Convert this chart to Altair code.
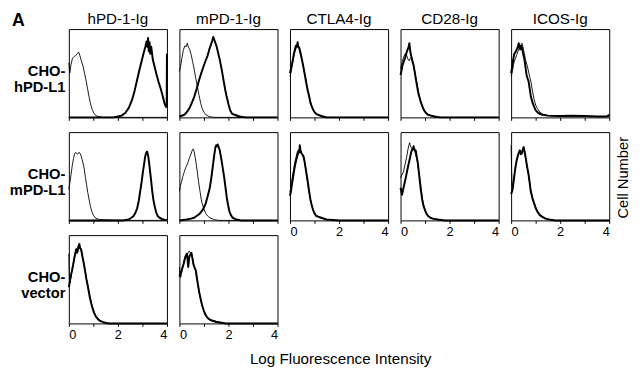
import altair as alt
import pandas as pd

# ---------------- text ----------------
column_titles = ["hPD-1-Ig", "mPD-1-Ig", "CTLA4-Ig", "CD28-Ig", "ICOS-Ig"]
row_titles = [["CHO-", "hPD-L1"], ["CHO-", "mPD-L1"], ["CHO-", "vector"]]
panel_letter = ["A"]
x_title = "Log Fluorescence Intensity"
y_title = "Cell Number"
x_ticks = [0, 1, 2, 3, 4]

# ---------------- histograms (x = log fluorescence, y = fraction of panel height) ----------------
# row 1: CHO-hPD-L1
r1c1_thin = [(0, 0.62), (0.04, 0.50), (0.09, 0.60), (0.15, 0.67), (0.22, 0.69), (0.28, 0.70), (0.34, 0.72), (0.40, 0.74), (0.45, 0.70), (0.52, 0.63), (0.58, 0.58), (0.64, 0.50), (0.70, 0.42), (0.76, 0.33), (0.82, 0.24), (0.88, 0.16), (0.95, 0.09), (1.02, 0.05), (1.10, 0.02), (1.20, 0.01), (1.40, 0.0), (4.0, 0.0)]
r1c1_thick = [(0, 0.0), (1.8, 0.0), (2.0, 0.01), (2.15, 0.02), (2.3, 0.05), (2.45, 0.11), (2.58, 0.20), (2.68, 0.30), (2.78, 0.42), (2.88, 0.54), (2.98, 0.65), (3.05, 0.73), (3.12, 0.80), (3.17, 0.86), (3.20, 0.80), (3.23, 0.90), (3.26, 0.75), (3.29, 0.85), (3.32, 0.72), (3.36, 0.80), (3.42, 0.66), (3.50, 0.57), (3.58, 0.48), (3.66, 0.40), (3.74, 0.33), (3.82, 0.25), (3.90, 0.16), (3.96, 0.12), (3.99, 0.12), (4.0, 0.72)]
r1c2_thin = [(0, 0.52), (0.05, 0.58), (0.1, 0.67), (0.16, 0.76), (0.22, 0.81), (0.28, 0.80), (0.32, 0.84), (0.36, 0.80), (0.42, 0.77), (0.48, 0.71), (0.54, 0.63), (0.60, 0.55), (0.67, 0.44), (0.74, 0.34), (0.80, 0.25), (0.87, 0.16), (0.93, 0.10), (1.0, 0.06), (1.08, 0.03), (1.2, 0.01), (1.4, 0.0), (4, 0)]
r1c2_thick = [(0, 0.01), (0.2, 0.03), (0.3, 0.06), (0.4, 0.10), (0.5, 0.16), (0.6, 0.23), (0.7, 0.32), (0.8, 0.42), (0.9, 0.51), (1.0, 0.59), (1.08, 0.65), (1.15, 0.70), (1.22, 0.77), (1.28, 0.82), (1.34, 0.87), (1.38, 0.91), (1.42, 0.88), (1.46, 0.85), (1.52, 0.80), (1.58, 0.73), (1.64, 0.66), (1.72, 0.55), (1.80, 0.42), (1.87, 0.31), (1.93, 0.23), (2.0, 0.15), (2.07, 0.08), (2.15, 0.04), (2.25, 0.03), (2.45, 0.01), (2.7, 0.0), (4, 0)]
r1c3_thin = [(0, 0.46), (0.05, 0.52), (0.1, 0.60), (0.15, 0.68), (0.2, 0.74), (0.26, 0.79), (0.31, 0.82), (0.36, 0.78), (0.42, 0.72), (0.48, 0.66), (0.55, 0.57), (0.62, 0.47), (0.68, 0.38), (0.75, 0.28), (0.82, 0.19), (0.9, 0.11), (1.0, 0.06), (1.1, 0.03), (1.25, 0.01), (1.5, 0), (4, 0)]
r1c3_thick = [(0, 0.50), (0.04, 0.55), (0.08, 0.60), (0.12, 0.66), (0.16, 0.72), (0.20, 0.77), (0.24, 0.81), (0.28, 0.80), (0.31, 0.85), (0.34, 0.80), (0.38, 0.79), (0.43, 0.73), (0.47, 0.68), (0.52, 0.61), (0.56, 0.55), (0.62, 0.46), (0.67, 0.38), (0.72, 0.31), (0.78, 0.24), (0.83, 0.17), (0.88, 0.13), (0.94, 0.09), (1.0, 0.06), (1.07, 0.04), (1.14, 0.03), (1.25, 0.02), (1.35, 0.01), (1.5, 0.0), (4, 0)]
r1c4_thin = [(0, 0.55), (0.06, 0.62), (0.12, 0.68), (0.19, 0.72), (0.25, 0.70), (0.30, 0.66), (0.35, 0.64), (0.40, 0.67), (0.45, 0.68), (0.50, 0.63), (0.56, 0.55), (0.62, 0.46), (0.68, 0.37), (0.74, 0.28), (0.80, 0.20), (0.87, 0.13), (0.95, 0.08), (1.05, 0.04), (1.2, 0.02), (1.4, 0.0), (4, 0)]
r1c4_thick = [(0, 0.48), (0.04, 0.53), (0.08, 0.59), (0.13, 0.63), (0.19, 0.68), (0.24, 0.73), (0.29, 0.77), (0.33, 0.80), (0.36, 0.84), (0.39, 0.76), (0.43, 0.70), (0.48, 0.64), (0.53, 0.59), (0.58, 0.51), (0.62, 0.44), (0.67, 0.36), (0.72, 0.28), (0.78, 0.22), (0.83, 0.17), (0.90, 0.12), (0.96, 0.08), (1.04, 0.05), (1.12, 0.03), (1.25, 0.02), (1.4, 0.01), (1.6, 0.0), (4, 0)]
r1c5_thin = [(0, 0.47), (0.05, 0.52), (0.1, 0.60), (0.16, 0.66), (0.22, 0.70), (0.28, 0.75), (0.34, 0.79), (0.40, 0.82), (0.44, 0.84), (0.48, 0.80), (0.54, 0.72), (0.6, 0.64), (0.67, 0.57), (0.74, 0.48), (0.81, 0.40), (0.87, 0.30), (0.94, 0.20), (1.0, 0.14), (1.07, 0.10), (1.17, 0.06), (1.27, 0.04), (1.5, 0.02), (2.0, 0.01), (3.0, 0.01), (4.0, 0.01)]
r1c5_thick = [(0, 0.50), (0.04, 0.57), (0.07, 0.63), (0.10, 0.68), (0.13, 0.72), (0.18, 0.74), (0.23, 0.77), (0.27, 0.80), (0.31, 0.84), (0.34, 0.79), (0.37, 0.77), (0.41, 0.81), (0.44, 0.79), (0.49, 0.72), (0.54, 0.66), (0.58, 0.58), (0.63, 0.48), (0.67, 0.44), (0.71, 0.41), (0.76, 0.32), (0.81, 0.23), (0.87, 0.17), (0.94, 0.12), (1.0, 0.08), (1.07, 0.06), (1.17, 0.04), (1.27, 0.03), (1.5, 0.02), (2.0, 0.015), (2.5, 0.02), (3.0, 0.015), (3.5, 0.01), (3.9, 0.01), (4.0, 0.03)]
# row 2: CHO-mPD-L1
r2c1_thin = [(0, 0.35), (0.04, 0.42), (0.09, 0.52), (0.14, 0.62), (0.19, 0.70), (0.23, 0.75), (0.27, 0.77), (0.31, 0.76), (0.36, 0.75), (0.41, 0.77), (0.46, 0.76), (0.50, 0.73), (0.54, 0.69), (0.58, 0.65), (0.63, 0.58), (0.67, 0.50), (0.72, 0.41), (0.77, 0.32), (0.83, 0.23), (0.88, 0.16), (0.94, 0.10), (1.0, 0.06), (1.07, 0.03), (1.15, 0.02), (1.25, 0.01), (1.6, 0.005), (2.4, 0.0), (4, 0)]
r2c1_thick = [(0, 0.0), (2.2, 0.0), (2.44, 0.01), (2.55, 0.03), (2.64, 0.05), (2.72, 0.09), (2.78, 0.13), (2.85, 0.22), (2.91, 0.33), (2.97, 0.44), (3.02, 0.55), (3.07, 0.64), (3.11, 0.72), (3.15, 0.76), (3.19, 0.78), (3.23, 0.74), (3.27, 0.66), (3.31, 0.56), (3.36, 0.44), (3.40, 0.33), (3.45, 0.23), (3.50, 0.16), (3.56, 0.09), (3.62, 0.05), (3.70, 0.03), (3.85, 0.01), (4.0, 0.0)]
r2c2_thin = [(0, 0.33), (0.05, 0.40), (0.09, 0.44), (0.14, 0.50), (0.2, 0.55), (0.26, 0.60), (0.33, 0.64), (0.40, 0.70), (0.47, 0.75), (0.52, 0.79), (0.56, 0.81), (0.60, 0.78), (0.64, 0.72), (0.69, 0.63), (0.73, 0.55), (0.78, 0.44), (0.84, 0.33), (0.89, 0.24), (0.93, 0.19), (1.0, 0.13), (1.07, 0.08), (1.15, 0.05), (1.24, 0.03), (1.4, 0.01), (1.6, 0.0), (4, 0)]
r2c2_thick = [(0, 0.0), (0.3, 0.01), (0.47, 0.02), (0.6, 0.03), (0.7, 0.05), (0.8, 0.07), (0.87, 0.09), (0.95, 0.12), (1.02, 0.16), (1.07, 0.19), (1.15, 0.27), (1.24, 0.37), (1.30, 0.48), (1.37, 0.63), (1.42, 0.74), (1.47, 0.83), (1.50, 0.85), (1.53, 0.84), (1.56, 0.86), (1.60, 0.83), (1.64, 0.80), (1.68, 0.74), (1.73, 0.66), (1.78, 0.57), (1.83, 0.48), (1.88, 0.37), (1.93, 0.26), (1.98, 0.18), (2.04, 0.10), (2.10, 0.06), (2.17, 0.03), (2.33, 0.01), (2.5, 0.0), (4, 0)]
r2c3_thin = [(0, 0.32), (0.05, 0.40), (0.1, 0.50), (0.15, 0.58), (0.2, 0.66), (0.25, 0.72), (0.3, 0.78), (0.35, 0.80), (0.4, 0.78), (0.46, 0.76), (0.52, 0.73), (0.58, 0.68), (0.64, 0.58), (0.7, 0.47), (0.76, 0.36), (0.82, 0.26), (0.88, 0.18), (0.95, 0.11), (1.05, 0.06), (1.2, 0.03), (1.5, 0.01), (2.0, 0.0), (4, 0)]
r2c3_thick = [(0, 0.28), (0.04, 0.33), (0.07, 0.39), (0.11, 0.46), (0.16, 0.55), (0.21, 0.63), (0.27, 0.70), (0.32, 0.75), (0.36, 0.79), (0.38, 0.77), (0.40, 0.85), (0.43, 0.79), (0.47, 0.76), (0.52, 0.74), (0.56, 0.72), (0.60, 0.66), (0.64, 0.59), (0.69, 0.50), (0.74, 0.41), (0.78, 0.33), (0.83, 0.24), (0.88, 0.18), (0.94, 0.12), (1.0, 0.08), (1.07, 0.05), (1.18, 0.04), (1.28, 0.03), (1.48, 0.01), (1.74, 0.005), (2.0, 0.0), (4, 0)]
r2c4_thin = [(0, 0.48), (0.06, 0.52), (0.12, 0.55), (0.18, 0.63), (0.25, 0.72), (0.30, 0.80), (0.34, 0.85), (0.37, 0.88), (0.40, 0.84), (0.45, 0.82), (0.50, 0.80), (0.55, 0.80), (0.60, 0.76), (0.66, 0.70), (0.70, 0.64), (0.75, 0.54), (0.80, 0.43), (0.85, 0.33), (0.90, 0.23), (0.96, 0.15), (1.03, 0.10), (1.1, 0.06), (1.2, 0.03), (1.4, 0.01), (1.7, 0.0), (4, 0)]
r2c4_thick = [(0, 0.37), (0.03, 0.33), (0.06, 0.29), (0.09, 0.33), (0.13, 0.38), (0.17, 0.43), (0.21, 0.48), (0.26, 0.55), (0.32, 0.63), (0.38, 0.70), (0.43, 0.77), (0.47, 0.80), (0.50, 0.81), (0.53, 0.84), (0.57, 0.80), (0.62, 0.79), (0.66, 0.72), (0.70, 0.66), (0.74, 0.56), (0.79, 0.44), (0.83, 0.34), (0.88, 0.24), (0.93, 0.17), (0.99, 0.12), (1.05, 0.08), (1.12, 0.05), (1.22, 0.03), (1.32, 0.02), (1.52, 0.01), (1.8, 0.0), (4, 0)]
r2c5_thin = [(0, 0.85), (0.02, 0.55), (0.04, 0.38), (0.08, 0.42), (0.12, 0.50), (0.17, 0.60), (0.22, 0.68), (0.28, 0.74), (0.34, 0.80), (0.38, 0.78), (0.42, 0.76), (0.47, 0.79), (0.52, 0.80), (0.57, 0.74), (0.62, 0.66), (0.68, 0.57), (0.74, 0.46), (0.80, 0.35), (0.87, 0.26), (0.94, 0.20), (1.0, 0.15), (1.1, 0.09), (1.2, 0.05), (1.35, 0.03), (1.55, 0.01), (1.8, 0.0), (4, 0)]
r2c5_thick = [(0, 0.30), (0.04, 0.33), (0.07, 0.37), (0.12, 0.48), (0.17, 0.59), (0.22, 0.67), (0.27, 0.73), (0.32, 0.77), (0.36, 0.79), (0.40, 0.75), (0.44, 0.76), (0.48, 0.81), (0.51, 0.83), (0.55, 0.78), (0.60, 0.70), (0.65, 0.61), (0.71, 0.52), (0.76, 0.42), (0.80, 0.33), (0.87, 0.25), (0.94, 0.19), (1.0, 0.14), (1.07, 0.10), (1.17, 0.06), (1.27, 0.04), (1.4, 0.02), (1.54, 0.01), (1.8, 0.0), (4, 0)]
# row 3: CHO-vector
r3c1_thin = [(0, 0.79), (0.02, 0.50), (0.05, 0.46), (0.1, 0.55), (0.15, 0.63), (0.2, 0.70), (0.25, 0.77), (0.3, 0.82), (0.35, 0.86), (0.4, 0.85), (0.45, 0.87), (0.5, 0.82), (0.56, 0.74), (0.62, 0.66), (0.68, 0.57), (0.74, 0.47), (0.8, 0.38), (0.86, 0.30), (0.92, 0.23), (1.0, 0.15), (1.1, 0.08), (1.2, 0.05), (1.35, 0.02), (1.5, 0.01), (1.7, 0.0), (4, 0)]
r3c1_thick = [(0, 0.41), (0.05, 0.49), (0.09, 0.55), (0.13, 0.60), (0.18, 0.67), (0.23, 0.75), (0.27, 0.80), (0.30, 0.84), (0.33, 0.80), (0.36, 0.82), (0.40, 0.88), (0.43, 0.90), (0.46, 0.85), (0.50, 0.84), (0.53, 0.80), (0.56, 0.75), (0.61, 0.68), (0.66, 0.60), (0.71, 0.51), (0.77, 0.43), (0.82, 0.35), (0.86, 0.29), (0.92, 0.22), (0.97, 0.17), (1.03, 0.12), (1.10, 0.08), (1.18, 0.05), (1.26, 0.03), (1.35, 0.02), (1.44, 0.01), (1.6, 0.0), (4, 0)]
r3c2_thin = [(0, 0.64), (0.02, 0.55), (0.05, 0.52), (0.1, 0.58), (0.15, 0.65), (0.2, 0.72), (0.25, 0.77), (0.30, 0.75), (0.35, 0.80), (0.40, 0.82), (0.45, 0.80), (0.50, 0.78), (0.55, 0.72), (0.6, 0.66), (0.66, 0.60), (0.72, 0.50), (0.78, 0.40), (0.84, 0.31), (0.9, 0.23), (0.97, 0.16), (1.05, 0.10), (1.15, 0.06), (1.3, 0.03), (1.5, 0.01), (1.8, 0.0), (4, 0)]
r3c2_thick = [(0, 0.53), (0.05, 0.57), (0.09, 0.60), (0.13, 0.64), (0.17, 0.67), (0.21, 0.72), (0.24, 0.75), (0.28, 0.78), (0.31, 0.79), (0.34, 0.70), (0.36, 0.64), (0.39, 0.72), (0.41, 0.76), (0.45, 0.78), (0.49, 0.80), (0.53, 0.74), (0.57, 0.67), (0.62, 0.63), (0.67, 0.60), (0.71, 0.52), (0.76, 0.43), (0.81, 0.35), (0.87, 0.27), (0.93, 0.20), (1.0, 0.14), (1.08, 0.09), (1.16, 0.06), (1.26, 0.04), (1.37, 0.03), (1.5, 0.02), (1.67, 0.01), (1.9, 0.0), (4, 0)]

grid = [
    [(r1c1_thin, r1c1_thick), (r1c2_thin, r1c2_thick), (r1c3_thin, r1c3_thick), (r1c4_thin, r1c4_thick), (r1c5_thin, r1c5_thick)],
    [(r2c1_thin, r2c1_thick), (r2c2_thin, r2c2_thick), (r2c3_thin, r2c3_thick), (r2c4_thin, r2c4_thick), (r2c5_thin, r2c5_thick)],
    [(r3c1_thin, r3c1_thick), (r3c2_thin, r3c2_thick), None, None, None],
]

FONT = "Liberation Sans"
W, H = 100, 90
ROW_GAP, COL_GAP = 15, 12.7


def to_df(points):
    return pd.DataFrame({"x": [p[0] for p in points], "y": [p[1] for p in points]})


def panel(thin, thick, r, c):
    show_labels = (r == 2) or (r == 1 and c >= 2)
    x_axis = alt.Axis(
        values=x_ticks, labels=show_labels, labelExpr="datum.value % 2 == 0 ? datum.label : ''",
        grid=False, domain=False, ticks=True, tickSize=3, tickColor="black", tickWidth=1,
        labelFontSize=13, labelColor="black", labelPadding=2, labelFont=FONT, title=None,
        minExtent=0,
    )
    x = alt.X("x:Q", scale=alt.Scale(domain=[0, 4], nice=False, zero=False), axis=x_axis)
    if c == 0:
        y_axis = alt.Axis(
            title=row_titles[r], titleAngle=0, titleAlign="right", titleBaseline="middle",
            titleFontWeight="bold", titleFontSize=15, titleFont=FONT, titleColor="black",
            titleX=-4, titleY=H / 2 - 3, titleLineHeight=17,
            labels=False, ticks=False, domain=False, grid=False, minExtent=0,
        )
    elif r == 1 and c == 4:
        y_axis = alt.Axis(
            orient="right", title=y_title, titleAngle=270, titleBaseline="top", titleAlign="center",
            titleFontWeight="normal", titleFontSize=15, titleFont=FONT, titleColor="black",
            titleX=7, titleY=H / 2 + 1,
            labels=False, ticks=False, domain=False, grid=False, minExtent=0,
        )
    else:
        y_axis = None
    y = alt.Y("y:Q", scale=alt.Scale(domain=[0, 1], nice=False), axis=y_axis)
    thick_line = alt.Chart(to_df(thick)).mark_line(color="black", strokeWidth=2.0, strokeJoin="round").encode(x=x, y=y)
    thin_line = alt.Chart(to_df(thin)).mark_line(color="black", strokeWidth=0.9, strokeJoin="round").encode(x=x, y=y)
    layers = [thick_line, thin_line]
    if r == 1 and c == 0:
        # panel letter above the first row (drawn from the second row so it
        # does not push the first row's column title)
        letter = alt.Chart(pd.DataFrame({"t": panel_letter})).mark_text(
            align="left", baseline="alphabetic", fontSize=18, fontWeight="bold", font=FONT, color="black"
        ).encode(text="t:N", x=alt.value(-58), y=alt.value(-(H + ROW_GAP) - 3))
        layers.append(letter)
    ch = alt.layer(*layers).properties(width=W, height=H)
    if r == 0:
        ch = ch.properties(title=alt.TitleParams(
            column_titles[c], fontSize=15.5, fontWeight="normal", font=FONT, color="black",
            offset=2, frame="group", anchor="middle"))
    return ch


def blank():
    return alt.Chart(pd.DataFrame({"x": [0.0]})).mark_point(opacity=0).encode(
        x=alt.X("x:Q", axis=None), y=alt.value(0)
    ).properties(width=W, height=H, view=alt.ViewBackground(stroke="transparent"))


cells = []
for r in range(3):
    for c in range(5):
        cell = grid[r][c]
        cells.append(blank() if cell is None else panel(cell[0], cell[1], r, c))

chart = alt.concat(*cells, columns=5, spacing={"row": ROW_GAP, "column": COL_GAP}, bounds="flush").properties(
    title=alt.TitleParams(x_title, orient="bottom", anchor="middle", dx=21, fontSize=15.5, fontWeight="normal", font=FONT, color="black", offset=11),
    padding=0,
).configure_view(stroke="black", strokeWidth=1)

chart.save("out.html", embed_options={"renderer": "svg", "actions": False})
